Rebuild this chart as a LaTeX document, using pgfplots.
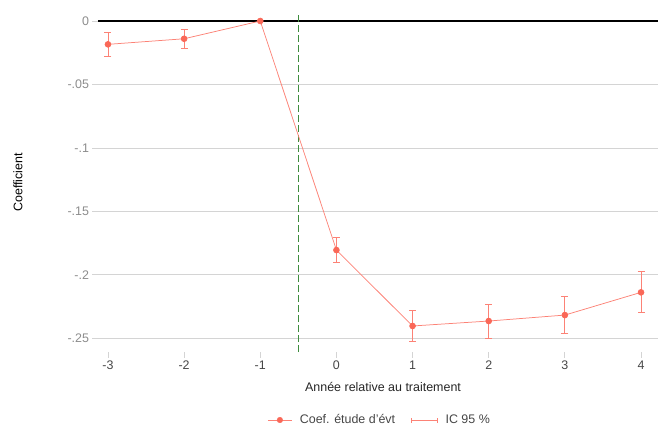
\documentclass[border=0pt]{standalone}
\usepackage{pgfplots}
\pgfplotsset{compat=1.18}
\usepackage{fontspec}
\setmainfont{Liberation Sans}
\definecolor{coef}{RGB}{250,104,88}
\definecolor{coefl}{RGB}{252,130,118}
\definecolor{vgreen}{RGB}{62,140,62}
\definecolor{gridc}{RGB}{212,212,212}
\definecolor{ylab}{RGB}{140,140,140}
\definecolor{xlab}{RGB}{70,70,70}
\begin{document}
\begin{tikzpicture}
\path[use as bounding box] (-98bp,-76bp) rectangle (560bp,352bp);
\begin{axis}[
  at={(0,0)}, anchor=south west,
  scale only axis, width=560bp, height=339bp,
  xmin=-3.131, xmax=4.223,
  ymin=-0.2608, ymax=0.0063,
  axis x line*=bottom, axis y line*=left,
  axis line style={draw=none},
  tick align=outside,
  major tick length=5.5bp,
  tick style={gridc, line width=0.8pt},
  font=\fontsize{12.5}{15}\selectfont,
  xtick={-3,-2,-1,0,1,2,3,4},
  xticklabels={-3,-2,-1,0,1,2,3,4},
  ytick={0,-0.05,-0.1,-0.15,-0.2,-0.25},
  yticklabels={0,-.05,-.1,-.15,-.2,-.25},
  xticklabel style={text=xlab, yshift=0bp},
  yticklabel style={text=ylab},
  ymajorgrids,
  grid style={gridc, line width=0.8pt},
  clip=false,
  legend style={at={(axis description cs:0.503,-0.2006)}, anchor=center, draw=none, fill=none,
    legend columns=2, /tikz/every even column/.append style={column sep=14bp},
    font=\fontsize{12.5}{15}\selectfont, text=xlab},
  xlabel={Année relative au traitement},
  ylabel={Coefficient},
  xlabel style={at={(axis description cs:0.509,0)}, anchor=center, yshift=-35bp, text=black!85},
  ylabel style={at={(axis description cs:-0.1429,0.5)}, anchor=center, text=black},
]
\draw[black, line width=1.1pt] (axis cs:-3.131,0) -- (axis cs:4.223,0);
\draw[vgreen, line width=0.9pt, dash pattern=on 7bp off 3bp] (axis cs:-0.5,-0.2608) -- (axis cs:-0.5,0.0063);

\addlegendimage{legend image code/.code={
  \path[draw=none, fill=none] (0bp,0bp) -- (30bp,0bp);
  \draw[coefl, line width=0.8pt] (0bp,0bp) -- (24bp,0bp);
  \fill[coef] (12bp,0bp) circle (2.8bp);
}}
\addlegendentry{Coef. étude d'évt}
\addlegendimage{legend image code/.code={
  \path[draw=none, fill=none] (0bp,0bp) -- (32bp,0bp);
  \draw[coefl, line width=0.8pt] (0bp,0bp) -- (26bp,0bp);
  \draw[coefl, line width=0.8pt] (0bp,-2.5bp) -- (0bp,2.5bp);
  \draw[coefl, line width=0.8pt] (26bp,-2.5bp) -- (26bp,2.5bp);
}}
\addlegendentry{IC 95 \%}

\addplot[draw=none, mark=none, forget plot,
  error bars/.cd, y dir=both, y explicit,
  error bar style={coefl, line width=0.9pt},
  error mark options={rotate=90, mark size=3.5bp, coefl, line width=0.9pt}]
  coordinates {
  (-3,-0.0184) +- (0,0.0092)
  (-2,-0.0140) +- (0,0.0076)
  (0,-0.1805) +- (0,0.0101)
  (1,-0.2403) +- (0,0.0119)
  (2,-0.2364) +- (0,0.0134)
  (3,-0.2317) +- (0,0.0146)
  (4,-0.2138) +- (0,0.0162)
  };
\addplot[coefl, line width=0.75pt, mark=*, mark size=2.9bp, mark options={fill=coef, draw=coef}, forget plot]
  coordinates {
  (-3,-0.0184) (-2,-0.0140) (-1,0) (0,-0.1805) (1,-0.2403) (2,-0.2364) (3,-0.2317) (4,-0.2138)
  };
\end{axis}
\end{tikzpicture}
\end{document}
